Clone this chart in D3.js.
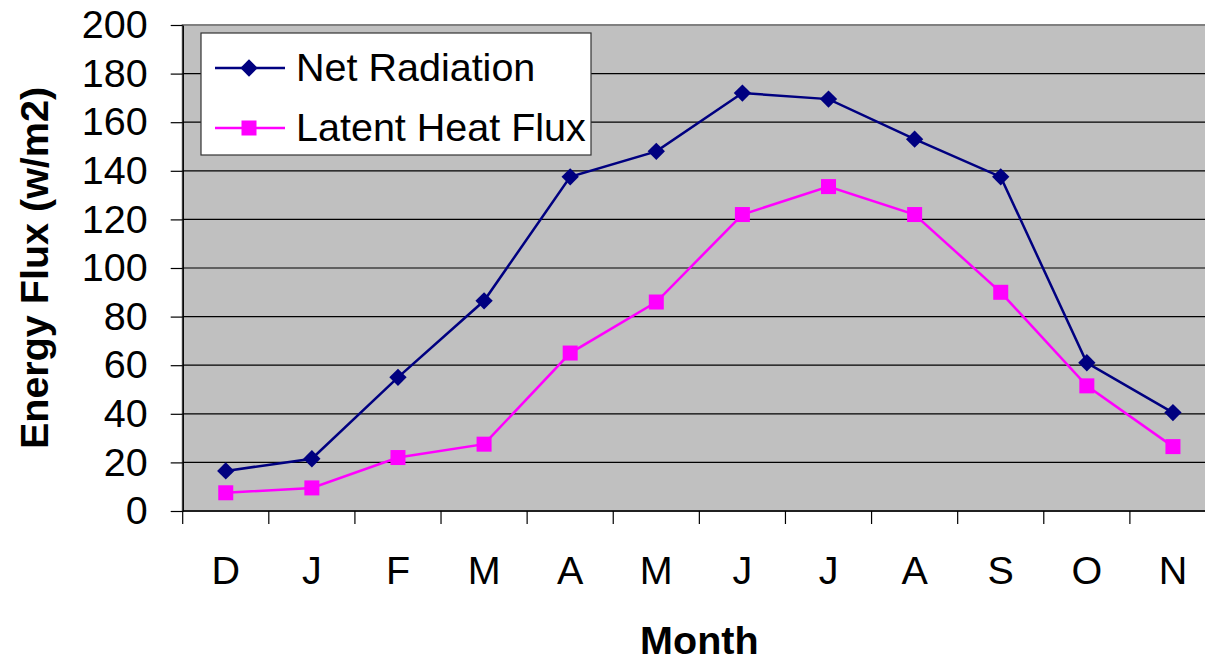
<!DOCTYPE html>
<html>
<head>
<meta charset="utf-8">
<script src="https://cdn.jsdelivr.net/npm/d3@7"></script>
<style>
  html, body { margin: 0; padding: 0; background: #fff; }
  svg { display: block; font-family: "Liberation Sans", Arial, sans-serif; }
</style>
</head>
<body>
<script>
const months = ["D", "J", "F", "M", "A", "M", "J", "J", "A", "S", "O", "N"];
const netRadiation = [16.5, 21.5, 55, 86.5, 137.5, 148, 172, 169.5, 153, 137.5, 61, 40.5];
const latentHeat = [7.5, 9.5, 22, 27.5, 65, 86, 122, 133.5, 122, 90, 51.5, 26.5];
const yTicks = [0, 20, 40, 60, 80, 100, 120, 140, 160, 180, 200];
const seriesNames = ["Net Radiation", "Latent Heat Flux"];

(function () {
const W = 1205, H = 655;
const pL = 182.7, pR = 1216, pT = 25, pB = 511;
const FS = 39.5;

const svg = d3.select("body").append("svg").attr("width", W).attr("height", H);

const x = d3.scaleBand().domain(d3.range(months.length)).range([pL, pR]).padding(0);
const y = d3.scaleLinear().domain([0, 200]).range([pB, pT]);
const cx = i => x(i) + x.bandwidth() / 2;

// plot background
svg.append("rect").attr("x", pL).attr("y", pT).attr("width", pR - pL).attr("height", pB - pT)
  .attr("fill", "#C0C0C0").attr("stroke", "#808080").attr("stroke-width", 2);

// gridlines
svg.append("g").selectAll("line").data(yTicks.filter(t => t > 0 && t < 200)).join("line")
  .attr("x1", pL).attr("x2", pR).attr("y1", d => y(d)).attr("y2", d => y(d))
  .attr("stroke", "#000").attr("stroke-width", 1.2);

// y axis
const yAxis = d3.axisLeft(y).tickValues(yTicks).tickSize(12).tickPadding(23).tickSizeOuter(0);
const gy = svg.append("g").attr("transform", `translate(${pL},0)`).call(yAxis);
gy.select(".domain").attr("stroke", "#000").attr("stroke-width", 1.5);
gy.selectAll(".tick line").attr("stroke", "#000").attr("stroke-width", 1.2);
gy.selectAll(".tick text").attr("font-size", FS).attr("fill", "#000")
  .attr("font-family", "'Liberation Sans', Arial, sans-serif");

// x axis
const gx = svg.append("g").attr("transform", `translate(0,${pB})`);
gx.append("line").attr("x1", pL).attr("x2", pR).attr("stroke", "#000").attr("stroke-width", 1.5);
const bounds = d3.range(months.length + 1).map(i => i < months.length ? x(i) : pR);
gx.selectAll("line.tk").data(bounds).join("line").attr("class", "tk")
  .attr("x1", d => d).attr("x2", d => d).attr("y1", 0).attr("y2", 13)
  .attr("stroke", "#000").attr("stroke-width", 1.2);
gx.selectAll("text").data(months).join("text")
  .attr("x", (d, i) => cx(i)).attr("y", 72.5)
  .attr("text-anchor", "middle").attr("font-size", FS).attr("fill", "#000").text(d => d);

// axis titles
svg.append("text").attr("x", (pL + pR) / 2).attr("y", 653.5).attr("text-anchor", "middle")
  .attr("font-size", FS).attr("font-weight", "bold").text("Month");
svg.append("text").attr("transform", `translate(48,${(pT + pB) / 2}) rotate(-90)`)
  .attr("text-anchor", "middle").attr("font-size", FS).attr("font-weight", "bold").text("Energy Flux (w/m2)");

// lines
const line = d3.line().x((d, i) => cx(i)).y(d => y(d));
svg.append("path").datum(netRadiation).attr("d", line).attr("fill", "none").attr("stroke", "#000080").attr("stroke-width", 2.5);
svg.append("path").datum(latentHeat).attr("d", line).attr("fill", "none").attr("stroke", "#FF00FF").attr("stroke-width", 2.5);

const sq = d3.symbol().type(d3.symbolSquare).size(150);
svg.append("g").selectAll("path").data(netRadiation).join("path")
  .attr("transform", (d, i) => `translate(${cx(i)},${y(d)}) rotate(45)`)
  .attr("d", sq).attr("fill", "#000080");
svg.append("g").selectAll("rect").data(latentHeat).join("rect")
  .attr("x", (d, i) => cx(i) - 7.5).attr("y", d => y(d) - 7.5)
  .attr("width", 15).attr("height", 15).attr("fill", "#FF00FF");

// legend
const lg = svg.append("g");
lg.append("rect").attr("x", 201).attr("y", 33).attr("width", 390).attr("height", 122)
  .attr("fill", "#fff").attr("stroke", "#333").attr("stroke-width", 1.2);
const rowsY = [68, 128];
const colors = ["#000080", "#FF00FF"];
seriesNames.forEach((name, i) => {
  lg.append("line").attr("x1", 215).attr("x2", 285).attr("y1", rowsY[i]).attr("y2", rowsY[i])
    .attr("stroke", colors[i]).attr("stroke-width", 2.5);
  if (i === 0) {
    lg.append("path").attr("transform", `translate(249,${rowsY[i]}) rotate(45)`)
      .attr("d", sq).attr("fill", colors[i]);
  } else {
    lg.append("rect").attr("x", 241.5).attr("y", rowsY[i] - 7.5).attr("width", 15).attr("height", 15).attr("fill", colors[i]);
  }
  lg.append("text").attr("x", 296).attr("y", rowsY[i] + 12.5).attr("font-size", FS).attr("fill", "#000").text(name);
});
})();
</script>
</body>
</html>
